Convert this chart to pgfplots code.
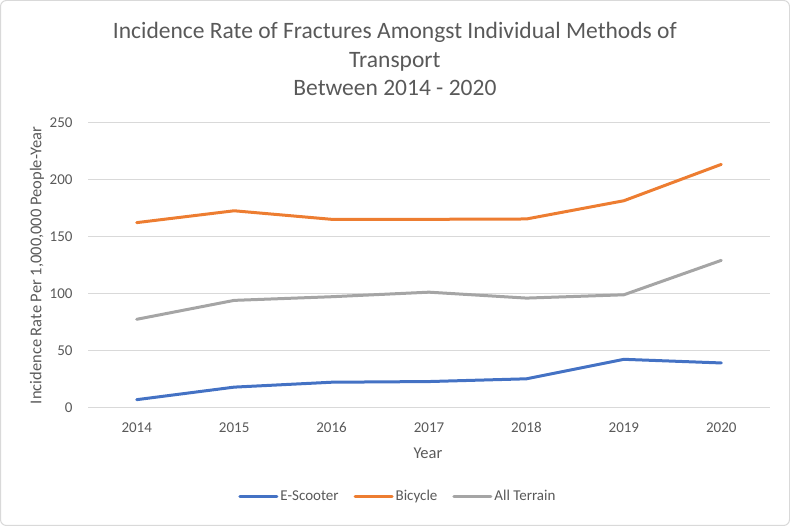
\documentclass[border=0pt]{standalone}
\usepackage{fontspec}
\setmainfont{Carlito}
\usepackage{pgfplots}
\pgfplotsset{compat=1.18}
\definecolor{txtgray}{HTML}{595959}
\definecolor{gridgray}{HTML}{D9D9D9}
\definecolor{cblue}{HTML}{4472C4}
\definecolor{corange}{HTML}{ED7D31}
\definecolor{cgray}{HTML}{A5A5A5}
\begin{document}
\begin{tikzpicture}[x=1pt,y=1pt]
\draw[gridgray, line width=1pt, rounded corners=6pt] (0.5,0.5) rectangle (789.5,525.5);
\begin{axis}[
  at={(88pt,118pt)}, anchor=south west,
  scale only axis, width=682pt, height=285pt,
  xmin=2013.5, xmax=2020.5, ymin=0, ymax=250,
  xtick={2014,2015,2016,2017,2018,2019,2020},
  ytick={0,50,100,150,200,250},
  /pgf/number format/assume math mode=true,
  xticklabel style={/pgf/number format/1000 sep=, yshift=-11pt},
  yticklabel style={xshift=-12pt},
  tick label style={font=\fontsize{15}{18}\selectfont, text=txtgray},
  major tick length=0pt,
  ymajorgrids, grid style={gridgray, line width=1pt},
  axis x line*=bottom, axis y line*=left,
  x axis line style={gridgray, line width=1pt, -},
  y axis line style={draw=none},
  xlabel={Year}, ylabel={Incidence Rate Per 1,000,000 People-Year},
  label style={font=\fontsize{16.5}{19}\selectfont, text=txtgray},
  xlabel style={at={(rel axis cs:0.4985,-0.158)}, anchor=center},
  ylabel style={at={(rel axis cs:-0.0748,0.5)}, anchor=center},
  title={Incidence Rate of Fractures Amongst Individual Methods of\\Transport\\Between 2014 - 2020},
  title style={at={(rel axis cs:0.450,1.203)}, anchor=center, align=center,
    font=\fontsize{23.5}{28.5}\selectfont, text=txtgray},
  legend columns=-1,
  legend style={at={(rel axis cs:0.4545,-0.309)}, anchor=center, draw=none,
    font=\fontsize{15}{18}\selectfont, text=txtgray,
    /tikz/every even column/.append style={column sep=13pt},
    inner sep=0pt},
  legend image code/.code={\draw[#1] (0pt,0pt) -- (37pt,0pt);},
  every axis plot/.append style={line width=3pt, line join=round, line cap=round},
]
\addplot[cblue, mark=none] coordinates {
(2014,7.3) (2015,18.3) (2016,22.6) (2017,23.2) (2018,25.6) (2019,42.7) (2020,39.5)};
\addlegendentry{E-Scooter}
\addplot[corange, mark=none] coordinates {
(2014,162.6) (2015,173) (2016,165.5) (2017,165.5) (2018,165.8) (2019,181.8) (2020,213.7)};
\addlegendentry{Bicycle}
\addplot[cgray, mark=none] coordinates {
(2014,77.8) (2015,94.4) (2016,97.6) (2017,101.6) (2018,96.4) (2019,99.3) (2020,129.5)};
\addlegendentry{All Terrain}
\end{axis}
\end{tikzpicture}
\end{document}
